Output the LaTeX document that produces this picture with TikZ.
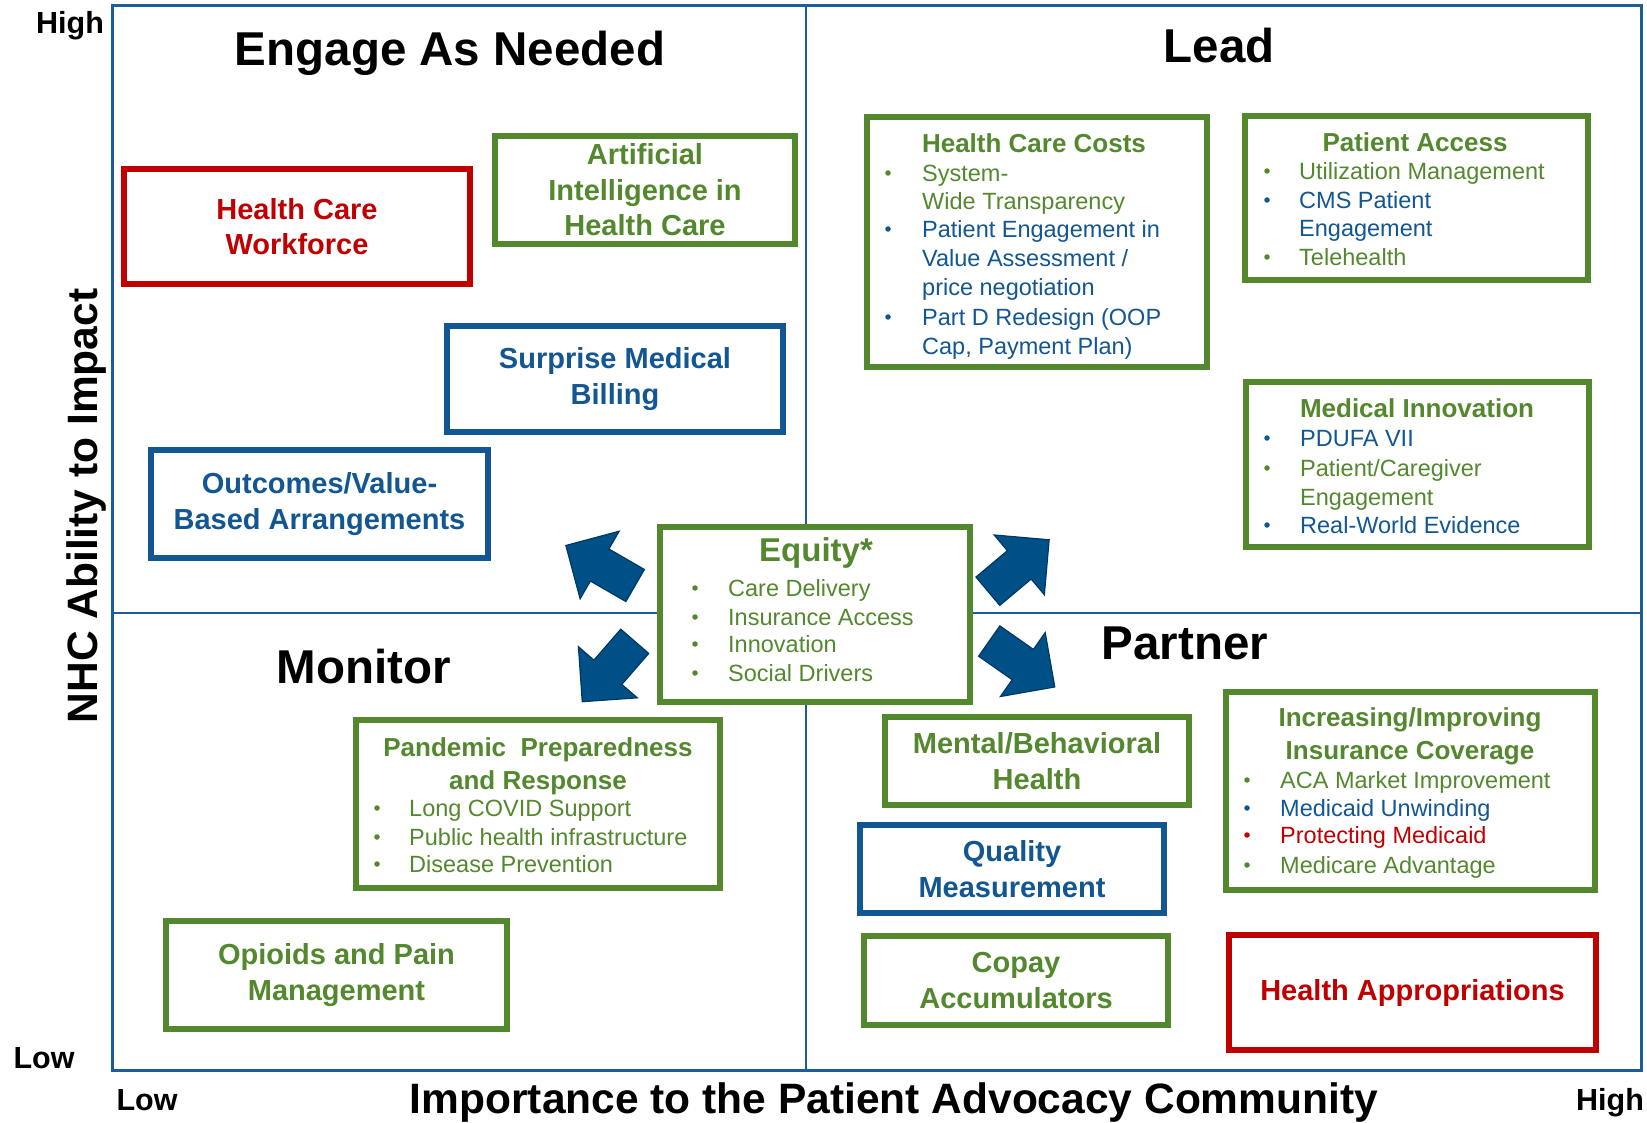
\documentclass[tikz,border=0pt]{standalone}
\usepackage{fontspec}
\setmainfont{Liberation Sans}
\usetikzlibrary{calc}

\definecolor{nhcgreen}{RGB}{84,136,46}
\definecolor{nhcblue}{RGB}{18,86,146}
\definecolor{nhcred}{RGB}{192,0,0}
\definecolor{gridblue}{RGB}{30,92,152}
\definecolor{arrowfill}{RGB}{0,80,136}
\definecolor{arrowedge}{RGB}{0,56,100}

\begin{document}
\begin{tikzpicture}[x=1pt, y=-1pt,
  box/.style={draw, line width=6pt, fill=white, align=center, inner sep=0pt, font=\bfseries\fontsize{29}{35.5}\selectfont},
  greenbox/.style={box, draw=nhcgreen, text=nhcgreen},
  bluebox/.style={box, draw=nhcblue, text=nhcblue},
  redbox/.style={box, draw=nhcred, text=nhcred},
  oneline/.style={inner sep=0pt, text height=#1, text depth=0pt},
  quadtitle/.style={oneline=34pt, font=\bfseries\fontsize{47.5}{50}\selectfont},
  axislabel/.style={oneline=30.5pt, font=\bfseries\fontsize{42.5}{46}\selectfont},
  endlabel/.style={oneline=22pt, font=\bfseries\fontsize{30.5}{34}\selectfont},
  listhead/.style={inner sep=0pt, align=center, text=nhcgreen, font=\bfseries\fontsize{26}{33}\selectfont},
  item/.style={oneline=16.9pt, anchor=west, font=\fontsize{23.5}{28}\selectfont},
  dot/.style={circle, inner sep=0pt, minimum size=5.5pt},
  blockarrow/.style={fill=arrowfill, draw=arrowedge, line width=1.2pt}]

\useasboundingbox (0,0) rectangle (1647,1123);

\draw[gridblue, line width=3pt] (112,6) rectangle (1641,1070);
\draw[gridblue, line width=2pt] (806,6) -- (806,1070) (112,613) -- (1641,613);

\node[endlabel] (yhigh) at (70,22.5) {High};
\node[endlabel] (ylow) at (44,1057) {Low};
\node[endlabel] (xlow) at (147,1099) {Low};
\node[endlabel] (xhigh) at (1610,1099) {High};
\node[axislabel] (xaxis) at (894,1098) {Importance to the Patient Advocacy Community};
\node[axislabel, rotate=90] (yaxis) at (82,506) {NHC Ability to Impact};

\node[quadtitle] (engage) at (450,49) {Engage As Needed};
\node[quadtitle] (lead) at (1219,46) {Lead};
\node[quadtitle] (monitor) at (364,666) {Monitor};
\node[quadtitle] (partner) at (1185,642.5) {Partner};

% engage as needed
\node[redbox, minimum width=346, minimum height=115] (workforce) at (297,226.5) {Health Care\\Workforce};
\node[greenbox, minimum width=300, minimum height=108] (ai) at (645,190) {Artificial\\Intelligence in\\Health Care};
\node[bluebox, minimum width=336, minimum height=106] (billing) at (615,379) {Surprise Medical\\Billing};
\node[bluebox, minimum width=337, minimum height=108] (outcomes) at (319.5,504) {Outcomes/Value-\\Based Arrangements};

% lead
\node[greenbox, minimum width=340, minimum height=250] (costs) at (1037,242) {};
\node[listhead, oneline=18.7pt] (costs-title) at (1034,143) {Health Care Costs};
\foreach \y/\c/\t [count=\i] in {173/nhcgreen/System-, 201/nhcgreen/Wide Transparency,
    229/nhcblue/Patient Engagement in, 258/nhcblue/{Value Assessment /}, 287/nhcblue/price negotiation,
    317/nhcblue/{Part D Redesign (OOP}, 346/nhcblue/{Cap, Payment Plan)}}
  \node[item, text=\c] (costs-\i) at (922,\y) {\t};
\foreach \y/\c [count=\i] in {173/nhcgreen, 229/nhcblue, 317/nhcblue}
  \node[dot, fill=\c] (costs-dot\i) at (888,\y) {};

\node[greenbox, minimum width=343, minimum height=164] (access) at (1416.5,198) {};
\node[listhead, oneline=18.7pt] (access-title) at (1415,142) {Patient Access};
\foreach \y/\c/\t [count=\i] in {171/nhcgreen/Utilization Management, 200/nhcblue/CMS Patient,
    228/nhcblue/Engagement, 257/nhcgreen/Telehealth}
  \node[item, text=\c] (access-\i) at (1299,\y) {\t};
\foreach \y/\c [count=\i] in {171/nhcgreen, 200/nhcblue, 257/nhcgreen}
  \node[dot, fill=\c] (access-dot\i) at (1267,\y) {};

\node[greenbox, minimum width=343, minimum height=165] (innovation) at (1417.5,464.5) {};
\node[listhead, oneline=18.7pt] (innovation-title) at (1417,408) {Medical Innovation};
\foreach \y/\c/\t [count=\i] in {438/nhcblue/PDUFA VII, 468/nhcgreen/{Patient/Caregiver},
    497/nhcgreen/Engagement, 525/nhcblue/Real-World Evidence}
  \node[item, text=\c] (innovation-\i) at (1300,\y) {\t};
\foreach \y/\c [count=\i] in {438/nhcblue, 468/nhcgreen, 525/nhcblue}
  \node[dot, fill=\c] (innovation-dot\i) at (1267,\y) {};

% equity in the middle
\node[greenbox, minimum width=310, minimum height=175] (equity) at (815,614.5) {};
\node[listhead, oneline=23.8pt, font=\bfseries\fontsize{33}{36}\selectfont] (equity-title) at (816,550) {Equity*};
\foreach \y/\t [count=\i] in {588/Care Delivery, 617/Insurance Access, 644/Innovation, 673/Social Drivers} {
  \node[item, text=nhcgreen] (equity-\i) at (728,\y) {\t};
  \node[dot, fill=nhcgreen] (equity-dot\i) at (695,\y) {};
}
\foreach \x/\y/\a in {600.5/565.5/150, 1018.5/565.5/40, 608.5/671.5/-131, 1022/664/-35}
  \filldraw[blockarrow, shift={(\x,\y)}, rotate=\a] (-40,-18.5) -- (1,-18.5) -- (1,-39) -- (40,0)
    -- (1,39) -- (1,18.5) -- (-40,18.5) -- cycle;

% monitor
\node[greenbox, minimum width=364, minimum height=168] (pandemic) at (538,804) {};
\node[listhead] (pandemic-title) at (538,766) {Pandemic\ \ Preparedness\\and Response};
\foreach \y/\t [count=\i] in {808/Long COVID Support, 837/Public health infrastructure, 864/Disease Prevention} {
  \node[item, text=nhcgreen] (pandemic-\i) at (409,\y) {\t};
  \node[dot, fill=nhcgreen] (pandemic-dot\i) at (377,\y) {};
}
\node[greenbox, minimum width=341, minimum height=108] (opioids) at (336.5,975) {Opioids and Pain\\Management};

% partner
\node[greenbox, minimum width=304, minimum height=88] (mental) at (1037,761) {Mental/Behavioral\\Health};
\node[bluebox, minimum width=304, minimum height=88] (quality) at (1012,869) {Quality\\Measurement};
\node[greenbox, minimum width=304, minimum height=89] (copay) at (1016,980.5) {Copay\\Accumulators};

\node[greenbox, minimum width=369, minimum height=198] (coverage) at (1410.5,791) {};
\node[listhead] (coverage-title) at (1410,736) {Increasing/Improving\\Insurance Coverage};
\foreach \y/\c/\t [count=\i] in {780/nhcgreen/ACA Market Improvement, 808/nhcblue/Medicaid Unwinding,
    835/nhcred/Protecting Medicaid, 865/nhcgreen/Medicare Advantage}
  \node[item, text=\c] (coverage-\i) at (1280,\y) {\t};
\foreach \y/\c [count=\i] in {780/nhcgreen, 808/nhcblue, 835/nhcred, 865/nhcgreen}
  \node[dot, fill=\c] (coverage-dot\i) at (1247,\y) {};

\node[redbox, minimum width=367, minimum height=115] (approp) at (1412.5,992.5) {Health Appropriations};

\end{tikzpicture}
\end{document}
